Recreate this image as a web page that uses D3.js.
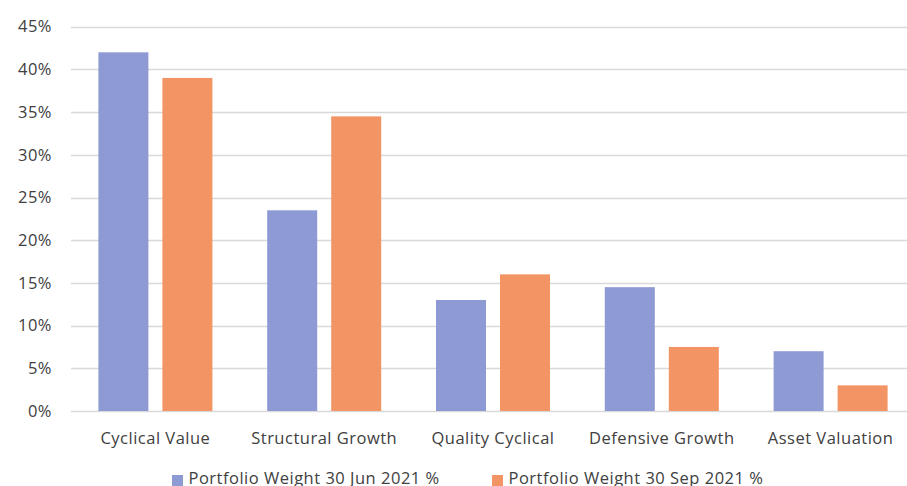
<!DOCTYPE html>
<html>
<head>
<meta charset="utf-8">
<script src="https://cdn.jsdelivr.net/npm/d3@7"></script>
<style>
  body { margin: 0; background: #fff; }
  svg { display: block; font-family: "Open Sans", Lato, sans-serif; }
  svg text { letter-spacing: 0.5px; }
</style>
</head>
<body>
<div class="chart"></div>
<script>
const categories = ['Cyclical Value', 'Structural Growth', 'Quality Cyclical', 'Defensive Growth', 'Asset Valuation']
const seriesNames = ['Portfolio Weight 30 Jun 2021 %', 'Portfolio Weight 30 Sep 2021 %']
const jun2021 = [42, 23.5, 13, 14.5, 7]
const sep2021 = [39, 34.5, 16, 7.5, 3]
const yTicks = [0, 5, 10, 15, 20, 25, 30, 35, 40, 45]
const colors = ['#8e9ad4', '#f39464']

const width = 907
const height = 486
const fontSize = '16.5px'

const svg = d3.select('.chart').append('svg')
    .attr('width', width)
    .attr('height', height)

const x = d3.scaleBand()
    .domain(categories)
    .range([71, 915])

const xInner = d3.scaleBand()
    .domain(d3.range(seriesNames.length))
    .range([27.4, 27.4 + 114])
    .paddingInner(14 / 64)

const y = d3.scaleLinear()
    .domain([0, 45])
    .range([411, 26.7])

// gridlines
svg.append('g')
    .selectAll('line')
    .data(yTicks)
    .enter()
    .append('line')
    .attr('x1', 71)
    .attr('x2', width)
    .attr('y1', d => Math.round(y(d)) + 0.5)
    .attr('y2', d => Math.round(y(d)) + 0.5)
    .attr('stroke', '#d9d9d9')
    .attr('stroke-width', 1.5)

// y axis labels
const yAxis = svg.append('g')
    .attr('transform', 'translate(52,0)')
    .call(d3.axisLeft(y).tickValues(yTicks).tickFormat(d => d + '%').tickSize(0).tickPadding(0))
yAxis.select('.domain').remove()
yAxis.selectAll('text')
    .attr('fill', '#404040')
    .style('font-size', fontSize)
    .style('font-family', '"Open Sans", Lato, sans-serif')

// x axis labels
const xAxis = svg.append('g')
    .attr('transform', 'translate(0,428)')
    .call(d3.axisBottom(x).tickSize(0).tickPadding(4))
xAxis.select('.domain').remove()
xAxis.selectAll('text')
    .attr('fill', '#404040')
    .style('font-size', fontSize)
    .style('font-family', '"Open Sans", Lato, sans-serif')

// bars
const series = [jun2021, sep2021]
const groups = svg.append('g')
    .selectAll('g')
    .data(categories)
    .enter()
    .append('g')
    .attr('transform', d => 'translate(' + x(d) + ',0)')

groups.selectAll('rect')
    .data((d, i) => series.map((s, k) => ({ k: k, v: s[i] })))
    .enter()
    .append('rect')
    .attr('x', d => xInner(d.k))
    .attr('width', xInner.bandwidth())
    .attr('y', d => y(d.v))
    .attr('height', d => y(0) - y(d.v))
    .attr('fill', d => colors[d.k])

// legend
const legendX = [172, 492]
const legend = svg.append('g')
    .selectAll('g')
    .data(seriesNames)
    .enter()
    .append('g')
    .attr('transform', (d, i) => 'translate(' + legendX[i] + ',475)')

legend.append('rect')
    .attr('width', 11)
    .attr('height', 11)
    .attr('fill', (d, i) => colors[i])

legend.append('text')
    .attr('x', 16.5)
    .attr('y', 9)
    .attr('fill', '#404040')
    .style('font-size', fontSize)
    .text(d => d)
</script>
</body>
</html>
